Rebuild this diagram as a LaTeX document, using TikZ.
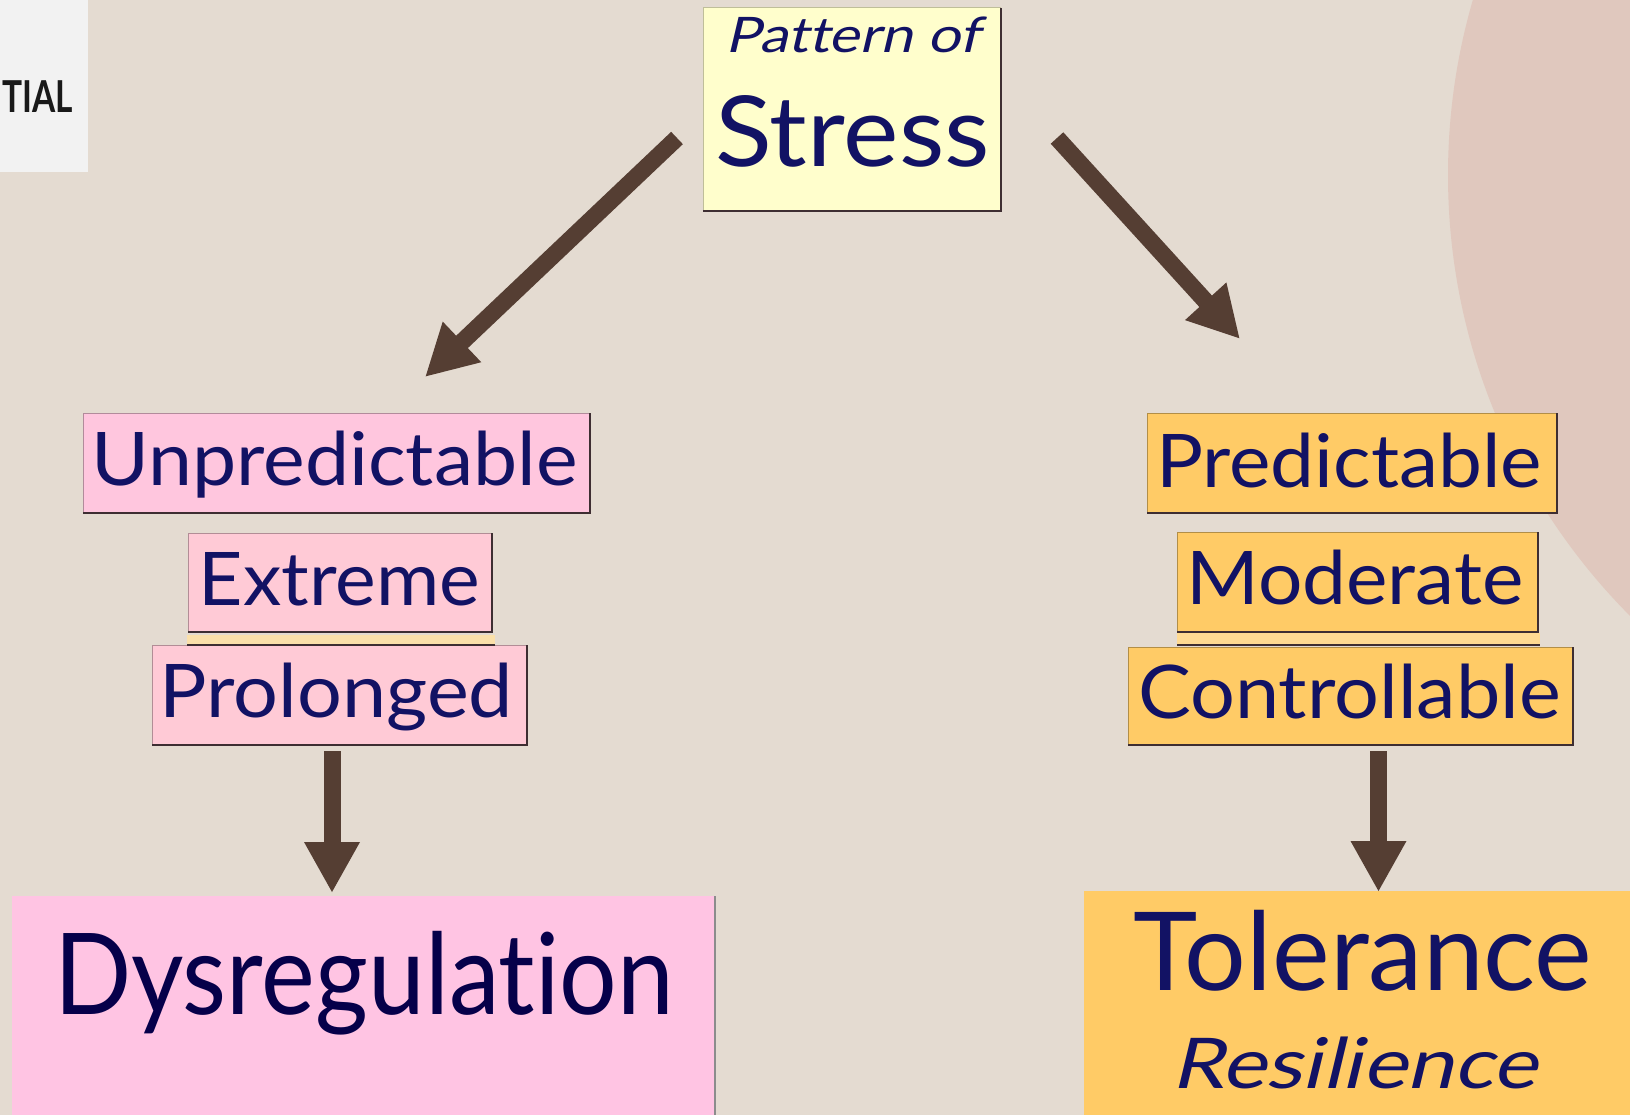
\documentclass[tikz,border=0pt]{standalone}
\usepackage{fontspec}
\setmainfont{Lato}[Ligatures=NoCommon]
\newfontfamily\oblq{Lato}[FakeSlant=0.2, Ligatures=NoCommon]
\usetikzlibrary{arrows.meta}
\definecolor{bg}{HTML}{E4DBD1}
\definecolor{circ}{HTML}{E0C8BE}
\definecolor{ink}{RGB}{18,18,100}
\definecolor{inkd}{HTML}{06004A}
\definecolor{arrowc}{HTML}{553E33}
\definecolor{pinkA}{HTML}{FFC6DE}
\definecolor{pinkB}{HTML}{FFCAD6}
\definecolor{pinkbig}{HTML}{FFC4E3}
\definecolor{orng}{HTML}{FFCB66}
\definecolor{orngstrip}{HTML}{FFDA92}
\definecolor{pinkstrip}{HTML}{FBE0AA}
\definecolor{yel}{HTML}{FFFECC}
\definecolor{greybox}{HTML}{F2F2F2}
\definecolor{edgeDark}{HTML}{3E2E32}
\newcommand{\fsz}[1]{\fontsize{#1}{#1}\selectfont}
\newcommand{\wide}[2]{\scalebox{#1}[1]{#2}}
\begin{document}
\begin{tikzpicture}[x=1pt,y=-1pt,
  box/.style={rectangle, inner sep=0pt, outer sep=0pt, anchor=north west},
  lbl/.style={anchor=base, inner sep=0pt, outer sep=0pt, text=ink},
  arr/.style={draw=arrowc, fill=arrowc, line width=17pt, -{Triangle[length=51pt,width=52pt]}},
  darkedge/.style={draw=edgeDark, line width=2pt},
  lightedge/.style={line width=1pt},
]
\fill[bg] (0,0) rectangle (1630,1115);
\useasboundingbox (0,0) rectangle (1630,1115);
\begin{scope}
  \clip (0,0) rectangle (1630,1115);
  \fill[circ] (2073,175) circle[radius=625];
\end{scope}

% top-left grey box
\node[box, fill=greybox, minimum width=88pt, minimum height=172pt] (grey) at (0,0) {};
\node[anchor=base west, inner sep=0pt, font=\bfseries\fsz{44}, text=black!90] (tial) at (2,113) {\wide{0.76}{TIAL}};

% boxes
\node[box, fill=yel, minimum width=298pt, minimum height=203pt] (top) at (703,8) {};
\node[box, fill=pinkA, minimum width=507pt, minimum height=100pt] (unp) at (83,413) {};
\node[box, fill=pinkB, minimum width=304pt, minimum height=99pt] (ext) at (188,533) {};
\node[box, fill=pinkstrip, minimum width=308pt, minimum height=10pt] (extstrip) at (187,635) {};
\node[box, fill=pinkB, minimum width=375pt, minimum height=100pt] (pro) at (152,645) {};
\node[box, fill=orng, minimum width=410pt, minimum height=100pt] (pre) at (1147,413) {};
\node[box, fill=orng, minimum width=361pt, minimum height=100pt] (mod) at (1177,532) {};
\node[box, fill=orngstrip, minimum width=363pt, minimum height=12pt] (modstrip) at (1177,633) {};
\node[box, fill=orng, minimum width=445pt, minimum height=98pt] (con) at (1128,647) {};
\node[box, fill=pinkbig, minimum width=703pt, minimum height=225pt] (dys) at (12,896) {};
\node[box, fill=orng, minimum width=560pt, minimum height=230pt] (tol) at (1084,891) {};

% box edges
\foreach \n/\c in {top/black!25!yel, unp/pinkA!70!black, ext/pinkB!70!black, pro/pinkB!70!black,
                   pre/orng!70!black, mod/orng!70!black, con/orng!70!black} {
  \draw[lightedge, draw=\c] (\n.south west) -- (\n.north west) -- (\n.north east);
  \draw[darkedge] (\n.north east) -- (\n.south east) -- (\n.south west);
}
\draw[darkedge] (extstrip.south west) -- (extstrip.south east);
\draw[darkedge] (modstrip.south west) -- (modstrip.south east);
\draw[draw=black!45, line width=1.5pt] (dys.north east) -- (dys.south east);

% labels
\node[lbl, font=\oblq\fsz{49}] (patl) at (852.5,53) {\wide{1.18}{Pattern of}};
\node[lbl, font=\fsz{98}] (strl) at (852.5,167) {\wide{1.07}{Stress}};
\node[lbl, font=\fsz{74}] (unpl) at (334.5,485) {\wide{1.065}{Unpredictable}};
\node[lbl, font=\fsz{74}] (extl) at (339.5,605) {\wide{1.04}{Extreme}};
\node[lbl, font=\fsz{74}] (prol) at (336.5,717) {\wide{1.07}{Prolonged}};
\node[lbl, font=\fsz{74}] (prel) at (1349,487) {\wide{1.06}{Predictable}};
\node[lbl, font=\fsz{74}] (modl) at (1355,604) {\wide{1.06}{Moderate}};
\node[lbl, font=\fsz{74}] (conl) at (1349.5,718) {\wide{1.07}{Controllable}};
\node[lbl, font=\fsz{113}, text=inkd] (dysl) at (364,1014) {\wide{0.9}{Dysregulation}};
\node[lbl, font=\fsz{109}] (toll) at (1363,990) {Tolerance};
\node[lbl, font=\oblq\fsz{70}] (resl) at (1354,1088) {\wide{1.2}{Resilience}};

% arrows
\coordinate (aLs) at (677,138);
\coordinate (aLe) at (425,377);
\coordinate (aRs) at (1057,138);
\coordinate (aRe) at (1240,339);
\coordinate (vLs) at (332,751);
\coordinate (vLe) at (332,893);
\coordinate (vRs) at (1378.5,751);
\coordinate (vRe) at (1378.5,892);
\draw[arr] (aLs) -- (aLe);
\draw[arr] (aRs) -- (aRe);
\draw[arr] (vLs) -- (vLe);
\draw[arr] (vRs) -- (vRe);
\end{tikzpicture}
\end{document}
